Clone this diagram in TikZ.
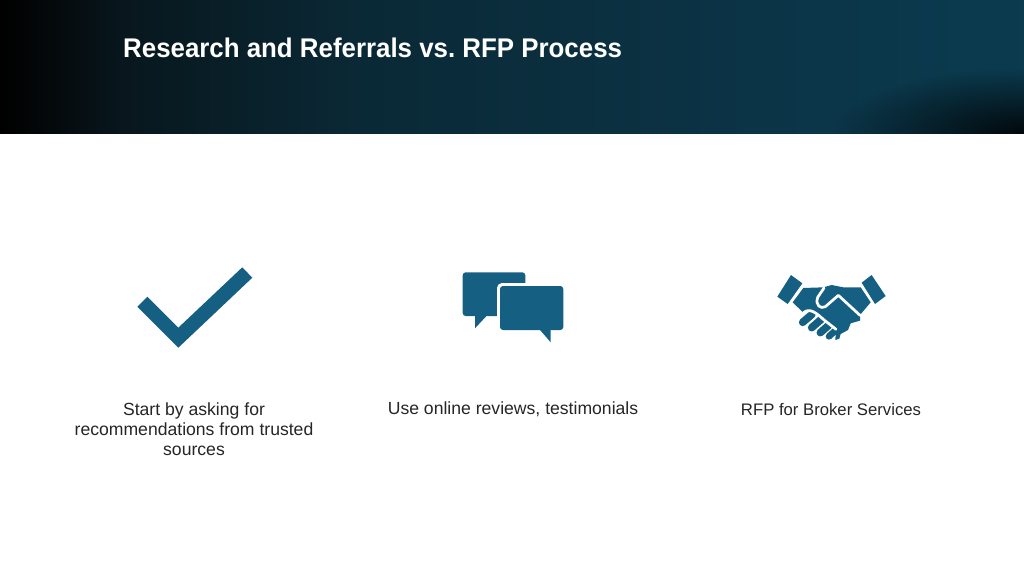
\documentclass[tikz,border=0pt]{standalone}
\usepackage{fontspec}
\setmainfont{Liberation Sans}
\frenchspacing
\usetikzlibrary{positioning}
\usetikzlibrary{fadings}
\usepackage{xcolor}
\definecolor{iconblue}{HTML}{156082}
\definecolor{bodytext}{HTML}{262626}
\pgfdeclarehorizontalshading{bandshade}{100bp}{
  rgb(0bp)=(0,0,0); rgb(25bp)=(0,0,0); rgb(26.5bp)=(0.012,0.02,0.024); rgb(31bp)=(0.03,0.09,0.115);
  rgb(42.5bp)=(0.04,0.16,0.21); rgb(60bp)=(0.043,0.2,0.27); rgb(75bp)=(0.043,0.23,0.31); rgb(100bp)=(0.043,0.23,0.31)}
\tikzfading[name=cornerfade, inner color=transparent!0, outer color=transparent!100]
\tikzset{
  icon/.style={fill=iconblue},
  caption/.style={text=bodytext, align=center, font=\fontsize{17.6}{20}\selectfont, inner sep=0pt},
  gap/.style={draw=white, line width=2.7pt, line join=round, line cap=round},
  finger/.style={draw=iconblue, line width=7.6pt, line cap=round}
}
\begin{document}
\begin{tikzpicture}[x=1pt,y=-1pt]
\useasboundingbox (0,0) rectangle (1024,576);
\fill[white] (0,0) rectangle (1024,576);

% title band
\shade[shading=bandshade] (0,0) rectangle (1024,133);
\begin{scope}
\clip (0,0) rectangle (1024,133);
\fill[black, path fading=cornerfade, opacity=0.85] (1024,133) ellipse [x radius=190, y radius=65];
\end{scope}

\node[right, text=white, inner sep=0pt, xscale=0.958, font=\fontsize{27}{32}\selectfont\bfseries] (title) at (123,48) {Research and Referrals vs. RFP Process};

% check mark
\fill[icon] (137.3,306.7)--(147.3,296.7)--(178.3,327.7)--(242.3,267.3)--(252.3,277.7)--(178.3,347.7)--cycle;

% speech bubbles
\fill[icon, rounded corners=3pt] (462.7,272.3) rectangle (525.3,316);
\fill[icon] (475,314)--(475,328.3)--(488.3,314)--cycle;
\fill[white, rounded corners=5pt] (497,283) rectangle (566.3,333);
\fill[icon, rounded corners=3pt] (500,286) rectangle (563.3,330);
\fill[icon] (538.3,328)--(550.7,342.3)--(550.7,328)--cycle;

% handshake, traced at three times the size
\begin{scope}[shift={(760,260)}, x=0.3333pt, y=-0.3333pt]
\fill[icon] (93,45)--(127,70)--(83,132)--(52,110)--cycle;
\fill[icon] (335,45)--(305,68)--(345,132)--(377,108)--cycle;

% fingers
\draw[finger] (128,187)--(156,163);
\draw[finger] (155,203)--(184,178);
\draw[finger] (181,218)--(206,196);
\draw[finger, line width=6.6pt] (207,229)--(228,210);

\fill[icon] (130,84)--(190,82)--(215,75)--(250,82)--(302,82)--(332,127)--(300,165)
  --(300,182)--(272,190)--(264,210)--(242,222)--(238,236)--(226,240)--(228,208)
  --(190,178) .. controls (170,160) and (150,142) .. (130,158)--(98,127)--cycle;

% thumb and wrist line
\draw[gap] (192,84)--(173,112) .. controls (165,136) and (182,148) .. (196,140)--(235,106)--(300,166);

% line over the fingers
\draw[gap] (130,158) .. controls (150,142) and (170,160) .. (190,178)--(228,208);
\end{scope}

% captions
\node[caption] (asking) at (194,429) {Start by asking for\\recommendations from trusted\\sources};
\node[caption] (reviews) at (513,409.5) {Use online reviews, testimonials};
\node[caption, font=\fontsize{16.7}{20}\selectfont] (broker) at (831,409.5) {RFP for Broker Services};
\end{tikzpicture}
\end{document}
